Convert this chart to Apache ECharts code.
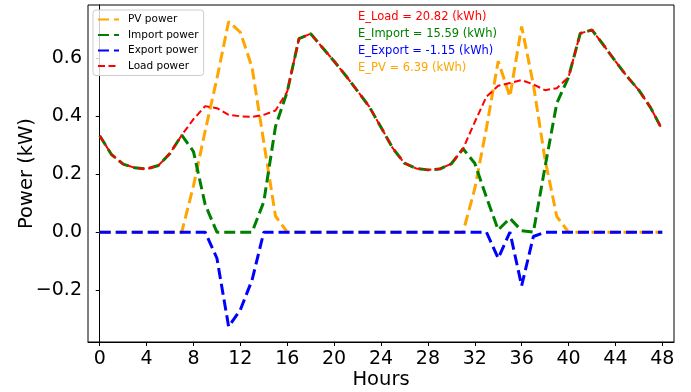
<!DOCTYPE html>
<html lang="en">
<head>
  <meta charset="UTF-8">
  <title>Power profile</title>
  <style>
    html, body { margin: 0; padding: 0; background: #fff; }
    #main { width: 691px; height: 392px; }
  </style>
</head>
<body>
  <div id="main"></div>
<script src="https://cdn.jsdelivr.net/npm/echarts@6/dist/echarts.min.js"></script>
<script>
  // hours of the two-day profile
  var hours = [0, 1, 2, 3, 4, 5, 6, 7, 8, 9, 10, 11, 12, 13, 14, 15, 16, 17, 18, 19, 20, 21, 22, 23, 24,
    25, 26, 27, 28, 29, 30, 31, 32, 33, 34, 35, 36, 37, 38, 39, 40, 41, 42, 43, 44, 45, 46, 47, 48];

  var pvPower = [0, 0, 0, 0, 0, 0, 0, 0, 0.16, 0.35, 0.53, 0.727, 0.69, 0.568, 0.31, 0.055, 0, 0, 0, 0, 0, 0, 0, 0, 0,
    0, 0, 0, 0, 0, 0, 0, 0.15, 0.36, 0.59, 0.468, 0.71, 0.51, 0.25, 0.054, 0, 0, 0, 0, 0, 0, 0, 0, 0];

  var loadPower = [0.333, 0.268, 0.235, 0.222, 0.218, 0.23, 0.272, 0.335, 0.39, 0.435, 0.428, 0.405, 0.4, 0.398, 0.405,
    0.42, 0.485, 0.668, 0.685, 0.637, 0.59, 0.54, 0.487, 0.433, 0.362, 0.29, 0.238, 0.22, 0.215, 0.218, 0.236, 0.288,
    0.38, 0.468, 0.505, 0.515, 0.525, 0.51, 0.49, 0.497, 0.535, 0.686, 0.698, 0.645, 0.59, 0.537, 0.49, 0.43, 0.353];

  var importPower = [0.333, 0.268, 0.235, 0.222, 0.218, 0.23, 0.272, 0.335, 0.278, 0.095, 0, 0, 0, 0, 0.105,
    0.365, 0.485, 0.668, 0.685, 0.637, 0.59, 0.54, 0.487, 0.433, 0.362, 0.29, 0.238, 0.22, 0.215, 0.218, 0.236, 0.288,
    0.238, 0.12, 0.008, 0.048, 0.005, 0, 0.226, 0.445, 0.535, 0.686, 0.698, 0.645, 0.59, 0.537, 0.49, 0.43, 0.353];

  var exportPower = [0, 0, 0, 0, 0, 0, 0, 0, 0, 0, -0.09, -0.326, -0.268, -0.165, 0, 0, 0, 0, 0, 0, 0, 0, 0, 0, 0,
    0, 0, 0, 0, 0, 0, 0, 0, 0, -0.09, 0, -0.185, -0.015, 0, 0, 0, 0, 0, 0, 0, 0, 0, 0, 0];

  var xTicks = [0, 4, 8, 12, 16, 20, 24, 28, 32, 36, 40, 44, 48];
  var yTicks = [-0.2, 0, 0.2, 0.4, 0.6];

  var energyLabels = [
    { text: 'E_Load = 20.82 (kWh)', color: '#ff0000' },
    { text: 'E_Import = 15.59 (kWh)', color: '#008000' },
    { text: 'E_Export = -1.15 (kWh)', color: '#0000ff' },
    { text: 'E_PV = 6.39 (kWh)', color: '#ffa500' }
  ];

  function pairs(values) {
    return hours.map(function (h, i) { return [h, values[i]]; });
  }

  var font = 'DejaVu Sans';
  var chart = echarts.init(document.getElementById('main'));

  function dashed(name, values, color, width, dash) {
    return {
      name: name,
      type: 'line',
      data: pairs(values),
      symbol: 'none',
      smooth: false,
      animation: false,
      lineStyle: { color: color, width: width, type: dash },
      itemStyle: { color: color }
    };
  }

  var option = {
    animation: false,
    backgroundColor: '#fff',
    grid: {
      left: 88, right: 17, top: 5, bottom: 50,
      outerBoundsMode: 'none',
      containLabel: false,
      show: true, borderColor: '#000', borderWidth: 1
    },
    legend: {
      orient: 'vertical',
      left: 93, top: 10,
      itemWidth: 21, itemHeight: 10, itemGap: 4.5,
      padding: [4, 5, 4, 4],
      borderColor: '#cccccc', borderWidth: 1, borderRadius: 3,
      backgroundColor: 'rgba(255,255,255,0.8)',
      itemStyle: { opacity: 0 },
      textStyle: { fontFamily: font, fontSize: 10.5, color: '#000', padding: [0, 0, 0, 4] },
      data: ['PV power', 'Import power', 'Export power', 'Load power']
    },
    xAxis: {
      type: 'value',
      min: -1, max: 49,
      name: 'Hours',
      nameLocation: 'middle',
      nameGap: 28,
      nameMoveOverlap: false,
      nameTextStyle: { fontFamily: font, fontSize: 19.5, color: '#000' },
      axisLine: { show: true, onZero: false, lineStyle: { color: '#000' } },
      axisTick: { show: true, length: 4, customValues: xTicks, lineStyle: { color: '#000' } },
      axisLabel: { customValues: xTicks, fontFamily: font, fontSize: 19, color: '#000', margin: 8 },
      splitLine: { show: false }
    },
    yAxis: {
      type: 'value',
      min: -0.379, max: 0.784,
      name: 'Power (kW)',
      nameLocation: 'middle',
      nameGap: 51,
      nameMoveOverlap: false,
      nameTextStyle: { fontFamily: font, fontSize: 19.5, color: '#000' },
      axisLine: { show: true, lineStyle: { color: '#000' } },
      axisTick: { show: true, length: 4, customValues: yTicks, lineStyle: { color: '#000' } },
      axisLabel: {
        customValues: yTicks,
        fontFamily: font, fontSize: 19, color: '#000', margin: 6,
        formatter: function (v) { return v.toFixed(1).replace('-', '\u2212'); }
      },
      splitLine: { show: false }
    },
    graphic: energyLabels.map(function (e, i) {
      return {
        type: 'text',
        left: 358,
        top: 11 + i * 17,
        style: { text: e.text, fill: e.color, font: '11.5px "DejaVu Sans"' }
      };
    }),
    series: [
      dashed('PV power', pvPower, '#ffa500', 3, [11, 5]),
      dashed('Import power', importPower, '#008000', 3, [11, 5]),
      dashed('Export power', exportPower, '#0000ff', 3, [11, 5]),
      dashed('Load power', loadPower, '#ff0000', 2, [7, 3.5])
    ]
  };

  chart.setOption(option);
</script>
</body>
</html>
